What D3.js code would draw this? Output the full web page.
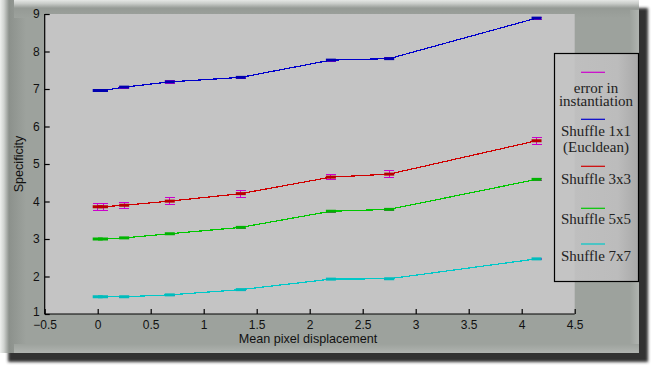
<!DOCTYPE html>
<html><head><meta charset="utf-8">
<script src="https://cdn.jsdelivr.net/npm/d3@7"></script>
<style>body{margin:0;background:#fff}svg{display:block}</style>
</head><body><svg id="c" width="651" height="366"></svg>
<script>
const xs = [0, 0.05, 0.25, 0.68, 1.35, 2.2, 2.75, 4.14];
const blue = [6.96, 6.96, 7.05, 7.19, 7.31, 7.77, 7.81, 8.89];
const blueErr = [0.03, 0.03, 0.03, 0.03, 0.03, 0.03, 0.03, 0.03];
const red = [3.86, 3.86, 3.90, 4.01, 4.21, 4.65, 4.73, 5.62];
const redErr = [0.09, 0.09, 0.08, 0.09, 0.09, 0.06, 0.10, 0.10];
const green = [3.0, 3.0, 3.03, 3.14, 3.31, 3.74, 3.79, 4.59];
const greenErr = [0.02, 0.02, 0.02, 0.02, 0.02, 0.02, 0.02, 0.03];
const cyan = [1.46, 1.46, 1.46, 1.51, 1.65, 1.93, 1.94, 2.47];
const cyanErr = [0.01, 0.01, 0.01, 0.01, 0.01, 0.01, 0.01, 0.01];
const xTicks = [-0.5, 0, 0.5, 1, 1.5, 2, 2.5, 3, 3.5, 4, 4.5];
const yTicks = [1, 2, 3, 4, 5, 6, 7, 8, 9];
const legendItems = [
  {color: "#cc00cc", lines: ["error in", "instantiation"]},
  {color: "#0000cc", lines: ["Shuffle 1x1", "(Eucldean)"]},
  {color: "#d00000", lines: ["Shuffle 3x3"]},
  {color: "#00c800", lines: ["Shuffle 5x5"]},
  {color: "#00c8c8", lines: ["Shuffle 7x7"]}
];
const series = [
  {vals: blue, err: blueErr, color: "#0000cc", mark: "#0000b0"},
  {vals: red, err: redErr, color: "#d00000", mark: "#b80000"},
  {vals: green, err: greenErr, color: "#00c800", mark: "#00b400"},
  {vals: cyan, err: cyanErr, color: "#00c8c8", mark: "#00bcbc"}
];

const svg = d3.select("#c");
const defs = svg.append("defs");
defs.append("filter").attr("id","blur").append("feGaussianBlur").attr("stdDeviation", 1.8);
const lg = defs.append("linearGradient").attr("id","lgL").attr("x1",0).attr("x2",1).attr("y1",0).attr("y2",0);
lg.append("stop").attr("offset","0").attr("stop-color","#eef0ee");
lg.append("stop").attr("offset","0.15").attr("stop-color","#d0d3d0");
lg.append("stop").attr("offset","0.35").attr("stop-color","#8c918c");
lg.append("stop").attr("offset","1").attr("stop-color","#9da29d");
const tg = defs.append("linearGradient").attr("id","lgT").attr("x1",0).attr("x2",0).attr("y1",0).attr("y2",1);
tg.append("stop").attr("offset","0").attr("stop-color","#e4e6e4");
tg.append("stop").attr("offset","0.2").attr("stop-color","#c8cbc8");
tg.append("stop").attr("offset","0.45").attr("stop-color","#959a95");
tg.append("stop").attr("offset","1").attr("stop-color","#9da29d");
const rg = defs.append("linearGradient").attr("id","lgR").attr("x1",0).attr("x2",1).attr("y1",0).attr("y2",0);
rg.append("stop").attr("offset","0").attr("stop-color","#9da29d");
rg.append("stop").attr("offset","1").attr("stop-color","#b0b4b0");
const bg = defs.append("linearGradient").attr("id","lgB").attr("x1",0).attr("x2",0).attr("y1",0).attr("y2",1);
bg.append("stop").attr("offset","0").attr("stop-color","#9da29d");
bg.append("stop").attr("offset","1").attr("stop-color","#b0b4b0");
const leg = defs.append("linearGradient").attr("id","lgLeg").attr("x1",0).attr("x2",1).attr("y1",0).attr("y2",0);
leg.append("stop").attr("offset","0").attr("stop-color","#c0c0c0");
leg.append("stop").attr("offset","0.75").attr("stop-color","#bcbcbc");
leg.append("stop").attr("offset","1").attr("stop-color","#a8a8a8");

// frame
svg.append("rect").attr("x",8).attr("y",8).attr("width",640).attr("height",354).attr("fill","#333").attr("filter","url(#blur)");
svg.append("rect").attr("x",0).attr("y",0).attr("width",639).attr("height",353).attr("fill","#9da29d");
svg.append("rect").attr("x",0).attr("y",0).attr("width",26).attr("height",353).attr("fill","url(#lgL)");
svg.append("rect").attr("x",14).attr("y",0).attr("width",625).attr("height",18).attr("fill","url(#lgT)");
svg.append("rect").attr("x",630).attr("y",10).attr("width",9).attr("height",343).attr("fill","url(#lgR)");
svg.append("rect").attr("x",14).attr("y",344).attr("width",625).attr("height",9).attr("fill","url(#lgB)");

const x = d3.scaleLinear().domain([-0.5, 4.5]).range([44.7, 574.7]);
const y = d3.scaleLinear().domain([1, 9]).range([314, 14]);

svg.append("rect").attr("x", x(-0.5)).attr("y", y(9)).attr("width", x(4.5)-x(-0.5)).attr("height", y(1)-y(9)).attr("fill","#c4c4c4");

// error bars
const eb = svg.append("g").attr("stroke","#cc00cc").attr("stroke-width",1).attr("shape-rendering","crispEdges");
series.forEach(s => {
  xs.forEach((xv,i) => {
    const cx = x(xv), t = y(s.vals[i]+s.err[i]), b = y(s.vals[i]-s.err[i]);
    eb.append("line").attr("x1",cx).attr("x2",cx).attr("y1",t).attr("y2",b);
    eb.append("line").attr("x1",cx-5).attr("x2",cx+5).attr("y1",t).attr("y2",t);
    eb.append("line").attr("x1",cx-5).attr("x2",cx+5).attr("y1",b).attr("y2",b);
  });
});

// lines and markers
const line = d3.line().x((d,i)=>x(xs[i])).y(d=>y(d));
series.forEach(s => {
  svg.append("path").datum(s.vals).attr("d", line).attr("fill","none").attr("stroke", s.color).attr("stroke-width",1.2).attr("shape-rendering","crispEdges");
  svg.append("g").selectAll("rect").data(s.vals).join("rect")
    .attr("x",(d,i)=>x(xs[i])-5).attr("y",d=>y(d)-1.5).attr("width",10).attr("height",3).attr("fill",s.mark);
});

// axes
const ax = svg.append("g").attr("transform",`translate(0,${y(1)})`)
  .call(d3.axisBottom(x).tickValues(xTicks).tickFormat(d3.format("")).tickSizeInner(-5).tickSizeOuter(0).tickPadding(6));
const ay = svg.append("g").attr("transform",`translate(${x(-0.5)},0)`)
  .call(d3.axisLeft(y).tickValues(yTicks).tickSizeInner(-5).tickSizeOuter(0).tickPadding(5));
[ax, ay].forEach(a => {
  a.selectAll("path,line").attr("stroke","#000").attr("stroke-width",1.2);
  a.selectAll("text").attr("fill","#111").attr("font-family","Liberation Sans, Arial, sans-serif").attr("font-size",12);
});
ax.select(".domain").attr("d", `M${x(-0.5)},0H${x(4.5)}`);
ay.select(".domain").attr("d", `M0,${y(1)}V${y(9)}`);
ay.selectAll(".tick text").filter(d => d === 1).attr("dy","0.15em");

svg.append("text").attr("x",308).attr("y",343).attr("text-anchor","middle")
  .attr("font-family","Liberation Sans, Arial, sans-serif").attr("font-size",12.6).attr("fill","#111").text("Mean pixel displacement");
svg.append("text").attr("transform","translate(23,164) rotate(-90)").attr("text-anchor","middle")
  .attr("font-family","Liberation Sans, Arial, sans-serif").attr("font-size",12.6).attr("fill","#111").text("Specificity");

// legend
const L = {x0: 554, y0: 53, x1: 639, y1: 282};
svg.append("rect").attr("x",L.x0).attr("y",L.y0).attr("width",L.x1-L.x0).attr("height",L.y1-L.y0).attr("fill","url(#lgLeg)");
svg.append("rect").attr("x",L.x0).attr("y",L.y0).attr("width",x(4.5)-L.x0).attr("height",L.y1-L.y0).attr("fill","#c4c4c4");
svg.append("rect").attr("x",L.x0+0.5).attr("y",L.y0+0.5).attr("width",L.x1-L.x0-1).attr("height",L.y1-L.y0-1).attr("fill","none").attr("stroke","#000").attr("stroke-width",1.2);
const lineYs = [72.3, 119.3, 166.3, 208.3, 244];
const textYs = [[92.7, 106], [136, 151.7], [184], [224.3], [261.3]];
const lcx = 596;
legendItems.forEach((it, k) => {
  svg.append("line").attr("x1",581).attr("x2",605).attr("y1",lineYs[k]).attr("y2",lineYs[k]).attr("stroke",it.color).attr("stroke-width",1.2);
  it.lines.forEach((t,j) => {
    svg.append("text").attr("x",lcx).attr("y",textYs[k][j]).attr("text-anchor","middle")
      .attr("font-family","Liberation Serif, Times New Roman, serif").attr("font-size",15).attr("fill","#222").text(t);
  });
});
</script></body></html>
